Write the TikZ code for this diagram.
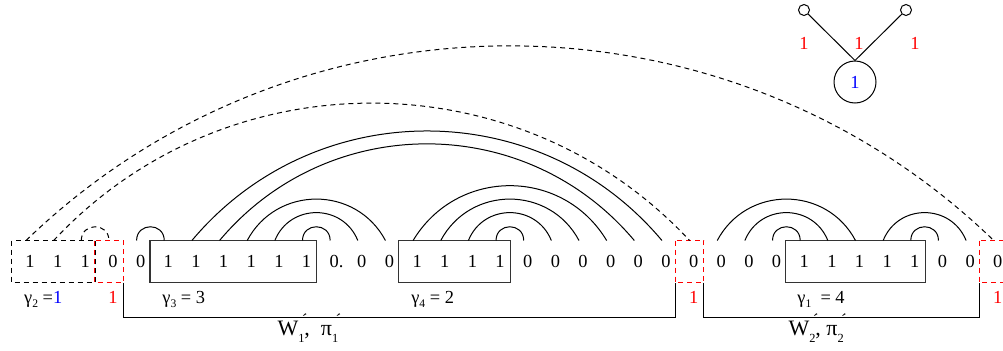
\documentclass[tikz,border=0pt]{standalone}
\usepackage{fontspec}
\setmainfont{Liberation Serif}
\usepackage{xcolor}
\usepackage{tikz}
\usetikzlibrary{calc}
\definecolor{markred}{HTML}{FF0000}
\definecolor{markblue}{HTML}{0000FF}
\newcommand{\lowidx}[1]{\raisebox{-2.2pt}{\fontsize{5.8}{6}\selectfont #1}}
\newcommand{\primeidx}[1]{\rlap{\raisebox{6.2pt}{\rotatebox[origin=c]{-40}{\fontsize{7.5}{7}\selectfont ′}}}\raisebox{-3.8pt}{\fontsize{6.2}{6}\selectfont #1}}

\begin{document}
\begin{tikzpicture}[x=0.5pt,y=0.5pt,line width=0.5pt,font=\fontsize{9.2}{10}\selectfont,
    cell/.style={minimum width=13.825pt,minimum height=20.5pt,inner sep=0pt},
    boxline/.style={draw=black!80,line width=0.6pt},
    ghost/.style={dash pattern=on 2.5pt off 2pt},
    redbox/.style={draw=markred,dash pattern=on 2.5pt off 2pt},
    redmark/.style={text=markred,anchor=base,inner sep=0pt},
    gammalab/.style={anchor=base west,inner sep=0pt},
    wlab/.style={anchor=base west,inner sep=0pt,font=\fontsize{11}{12}\selectfont},
    hop1/.style={out=90,in=90,looseness=1.70},
    hop3/.style={out=68,in=112,looseness=1.24},
    hop5/.style={out=62,in=118,looseness=1.16},
    hop7/.style={out=59,in=121,looseness=1.13},
    longhop/.style={out=50,in=130,looseness=1.04},
    root/.style={circle,draw,minimum size=21pt,inner sep=0pt},
    leaf/.style={circle,draw,minimum size=5.5pt,inner sep=0pt}]
    \useasboundingbox (0,0) rectangle (1003,350);

    \foreach \d [count=\i from 0] in {1,1,1,0,0,1,1,1,1,1,1,{0\rlap{.}},0,0,1,1,1,1,0,0,0,0,0,0,0,0,0,0,1,1,1,1,1,0,0,0}
        \node[cell] (c\i) at (26+27.65*\i,88.5) {\hspace*{4pt}\d};

    \draw[boxline] (c5.north west) rectangle (c10.south east);
    \draw[boxline] (c14.north west) rectangle (c17.south east);
    \draw[boxline] (c28.north west) rectangle (c32.south east);
    \draw[ghost] (c0.north west) rectangle (c2.south east);
    \draw[redbox] (c3.north west) rectangle (c3.south east);
    \draw[redbox] (c24.north west) rectangle (c24.south east);
    \draw[redbox] (c35.north west) rectangle (c35.south east);

    \draw (c4.north) to[hop1] (c5.north);
    \draw (c10.north) to[hop1] (c11.north);
    \draw (c9.north) to[hop3] (c12.north);
    \draw (c8.north) to[hop5] (c13.north);
    \draw (c7.north) to[longhop] (c22.north);
    \draw (c6.north) to[longhop] (c23.north);
    \draw (c17.north) to[hop1] (c18.north);
    \draw (c16.north) to[hop3] (c19.north);
    \draw (c15.north) to[hop5] (c20.north);
    \draw (c14.north) to[hop7] (c21.north);
    \draw (c27.north) to[hop1] (c28.north);
    \draw (c26.north) to[hop3] (c29.north);
    \draw (c25.north) to[hop5] (c30.north);
    \draw (c32.north) to[hop1] (c33.north);
    \draw (c31.north) to[hop3] (c34.north);
    \draw[ghost] (c2.north) to[hop1] (c3.north);
    \draw[ghost] (c1.north) to[out=47,in=133,looseness=1.01] (c24.north);
    \draw[ghost] (c0.north) to[out=44,in=136,looseness=0.99] (c35.north);

    \draw (c3.south east) -- ++(0,-35) -| (c24.south west);
    \draw (c24.south east) -- ++(0,-35) -| (c35.south west);

    \node[gammalab] (g2) at ([xshift=6pt,yshift=-10.5pt]c0.south west) {γ\lowidx{2} =\textcolor{markblue}{1}};
    \node[gammalab] (g3) at ([xshift=6pt,yshift=-10.5pt]c5.south west) {γ\lowidx{3} = 3};
    \node[gammalab] (g4) at ([xshift=6pt,yshift=-10.5pt]c14.south west) {γ\lowidx{4} = 2};
    \node[gammalab] (g1) at ([xshift=5.5pt,yshift=-10.5pt]c28.south west) {γ\lowidx{1}\ \ = 4};
    \node[redmark] (m3) at ([xshift=2pt,yshift=-10.5pt]c3.south) {1};
    \node[redmark] (m24) at ([xshift=2pt,yshift=-10.5pt]c24.south) {1};
    \node[redmark] (m35) at ([xshift=2pt,yshift=-10.5pt]c35.south) {1};

    \node[wlab] (w1) at (277,15) {W\primeidx{1},\ \ π\primeidx{1}};
    \node[wlab] (w2) at (788,15) {W\primeidx{2}, π\primeidx{2}};

    \node[root] (root) at (855,268) {\textcolor{markblue}{1}};
    \node[leaf] (leafl) at (804,340) {};
    \node[leaf] (leafr) at (906,340) {};
    \draw (leafl) -- (root.north);
    \draw (leafr) -- (root.north);
    \node[text=markred] (t1) at (804,307) {1};
    \node[text=markred] (t2) at (859,307) {1};
    \node[text=markred] (t3) at (915,307) {1};
\end{tikzpicture}
\end{document}
